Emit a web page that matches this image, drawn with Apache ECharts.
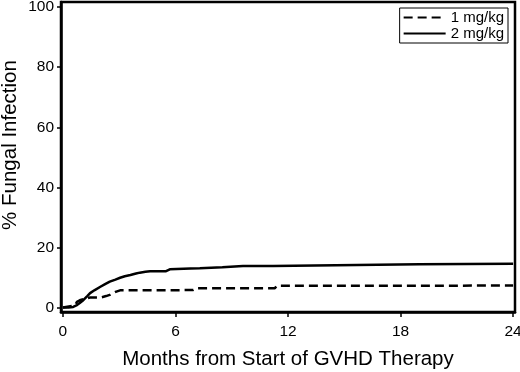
<!DOCTYPE html>
<html><head><meta charset="utf-8">
<script src="https://cdn.jsdelivr.net/npm/echarts@6/dist/echarts.min.js"></script>
<style>html,body{margin:0;padding:0;background:#fff}#c{width:520px;height:372px}</style>
</head><body><div id="c"></div>
<script>
// Data
const seriesNames = ['1 mg/kg', '2 mg/kg'];
const months1 = [0, 0.5, 0.65, 0.75, 0.9, 1.1, 1.3, 1.45, 2.0, 2.3, 2.5, 2.65, 2.85, 3.05, 6.95, 7.1, 11.3, 11.4, 24];
const values1 = [0, 0.5, 0.8, 1.9, 2.4, 2.8, 3.1, 3.3, 3.3, 3.8, 4.2, 4.7, 5.3, 5.7, 5.8, 6.4, 6.4, 7.2, 7.3];
const months2 = [0, 0.3, 0.55, 0.75, 0.9, 1.1, 1.3, 1.45, 1.7, 2.0, 2.25, 2.5, 2.8, 3.05, 3.3, 3.6, 3.9, 4.1, 4.4, 4.65, 5.5, 5.7, 6.8, 7.3, 8.5, 9.6, 11.2, 11.3, 19.0, 19.05, 24];
const values2 = [0, 0, 0.2, 0.8, 1.5, 2.5, 3.8, 4.8, 5.8, 6.9, 7.8, 8.6, 9.3, 9.9, 10.4, 10.8, 11.3, 11.6, 11.9, 12.1, 12.1, 12.7, 13.0, 13.1, 13.4, 13.8, 13.8, 14.4, 14.4, 14.6, 14.6];
const xTicks = [0, 6, 12, 18, 24];
const yTicks = [0, 20, 40, 60, 80, 100];
const xTitle = 'Months from Start of GVHD Therapy';
const yTitle = '% Fungal Infection';

const pairs = (xs, ys) => xs.map((x, i) => [x, ys[i]]);
const FONT = '"Liberation Sans", Arial, sans-serif';

const chart = echarts.init(document.getElementById('c'), null, {renderer: 'canvas'});
chart.setOption({
  animation: false,
  backgroundColor: '#fff',
  textStyle: {fontFamily: FONT, color: '#000'},
  grid: {left: 61, right: 5, top: 2, bottom: 60, show: true, borderColor: '#000', borderWidth: 2.5,
         containLabel: false, outerBoundsMode: 'none'},
  legend: {
    orient: 'vertical', right: 12, top: 8,
    data: seriesNames,
    itemWidth: 42, itemHeight: 12, itemGap: 1,
    padding: [2, 4, 2, 3],
    borderColor: '#000', borderWidth: 1,
    itemStyle: {opacity: 0},
    textStyle: {fontFamily: FONT, fontSize: 15, color: '#000', lineHeight: 14},
    selectedMode: false
  },
  xAxis: {
    type: 'value', min: -0.1, max: 24.1,
    name: xTitle, nameLocation: 'middle', nameGap: 37, nameMoveOverlap: false,
    nameTextStyle: {fontFamily: FONT, fontSize: 20.5, color: '#000'},
    axisLine: {show: true, onZero: false, lineStyle: {color: '#000', width: 2.5}},
    axisTick: {show: true, length: 5, lineStyle: {color: '#000', width: 1.5}, customValues: xTicks},
    axisLabel: {fontFamily: FONT, fontSize: 15.5, color: '#000', margin: 12, customValues: xTicks},
    splitLine: {show: false}
  },
  yAxis: {
    type: 'value', min: -1.5, max: 101.7,
    name: yTitle, nameLocation: 'middle', nameGap: 40, nameMoveOverlap: false,
    nameTextStyle: {fontFamily: FONT, fontSize: 20.5, color: '#000', padding: [0, 0, 0, 24]},
    axisLine: {show: true, onZero: false, lineStyle: {color: '#000', width: 2.5}},
    axisTick: {show: true, length: 4, lineStyle: {color: '#000', width: 1.5}, customValues: yTicks},
    axisLabel: {fontFamily: FONT, fontSize: 15.5, color: '#000', margin: 7, customValues: yTicks},
    splitLine: {show: false}
  },
  series: [
    {name: seriesNames[0], type: 'line', data: pairs(months1, values1), symbol: 'none', showSymbol: false,
     lineStyle: {color: '#000', width: 2.5, type: [9, 5]}, itemStyle: {color: '#000'}},
    {name: seriesNames[1], type: 'line', data: pairs(months2, values2), symbol: 'none', showSymbol: false,
     lineStyle: {color: '#000', width: 2.5, type: 'solid'}, itemStyle: {color: '#000'}}
  ]
});
</script></body></html>
